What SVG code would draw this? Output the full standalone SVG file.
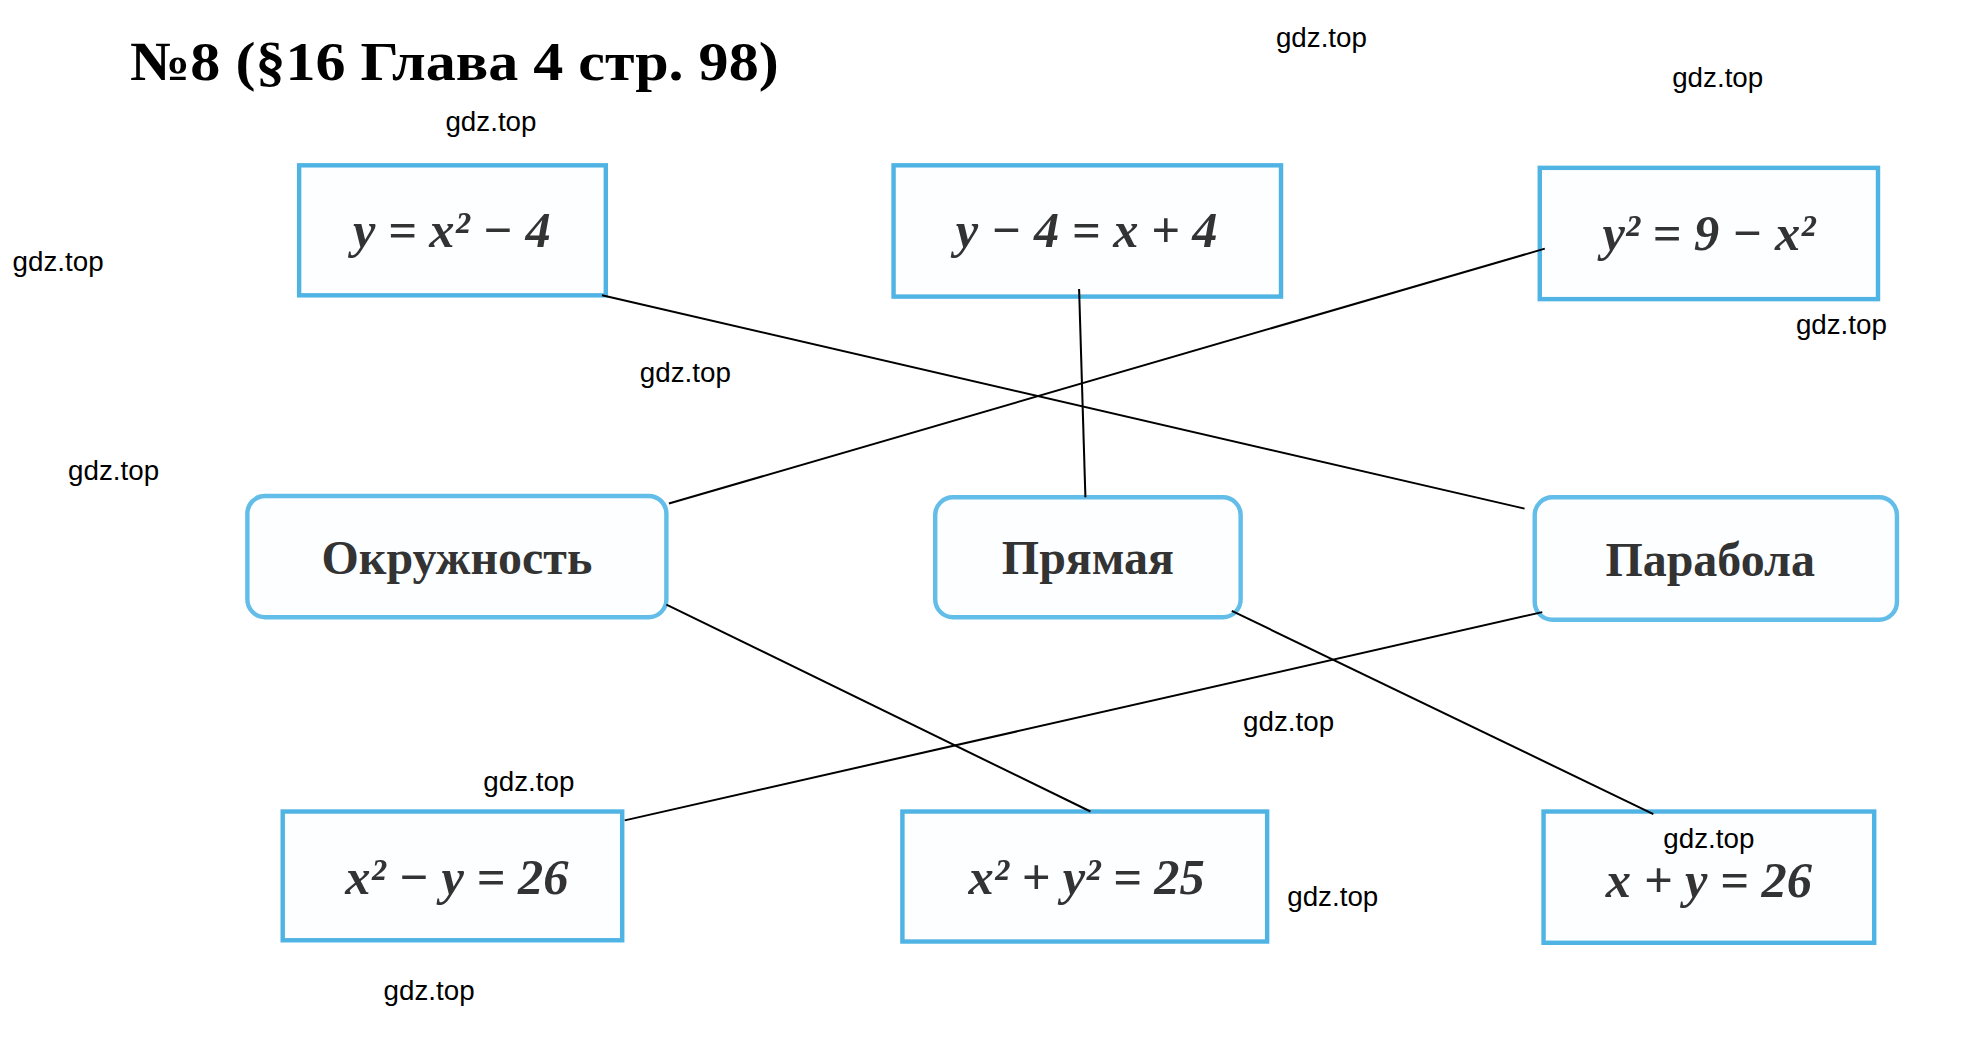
<svg xmlns="http://www.w3.org/2000/svg" width="1979" height="1037" viewBox="0 0 1979 1037">
<style>
.bx{fill:#fdfeff;stroke:#4fb3e3;stroke-width:3.5}
.rb{fill:#fdfeff;stroke:#62bde8;stroke-width:3.5}
.f{font-family:"Liberation Serif",serif;font-style:italic;font-weight:bold;font-size:40px;fill:#333;text-anchor:middle}
.w{font-family:"Liberation Serif",serif;font-weight:bold;font-size:38px;fill:#333;text-anchor:middle}
.g{font-family:"Liberation Sans",Arial,sans-serif;font-size:22px;fill:#000;text-anchor:middle}
.c line{stroke:#000;stroke-width:1.6}
</style>
<rect width="1979" height="1037" fill="#fff"/>
<g transform="scale(1.2621)">
<text x="103" y="63" font-family="'Liberation Serif',serif" font-weight="bold" font-size="44" textLength="514" lengthAdjust="spacingAndGlyphs">№8 (§16 Глава 4  стр. 98)</text>
<g id="n1"><rect class="bx" x="237" y="131" width="243" height="103"/><text class="f" x="358" y="196">y = x² − 4</text></g>
<g id="n2"><rect class="bx" x="708" y="131" width="307" height="104"/><text class="f" x="861" y="196">y − 4 = x + 4</text></g>
<g id="n3"><rect class="bx" x="1220" y="133" width="268" height="104"/><text class="f" x="1354" y="198">y² = 9 − x²</text></g>
<g id="n4"><rect class="rb" x="196" y="393" width="332" height="96" rx="14"/><text class="w" x="362" y="455">Окружность</text></g>
<g id="n5"><rect class="rb" x="741" y="394" width="242" height="95" rx="14"/><text class="w" x="862" y="455">Прямая</text></g>
<g id="n6"><rect class="rb" x="1216" y="394" width="287" height="97" rx="14"/><text class="w" x="1355" y="456">Парабола</text></g>
<g id="n7"><rect class="bx" x="224" y="643" width="269" height="102"/><text class="f" x="362" y="708">x² − y = 26</text></g>
<g id="n8"><rect class="bx" x="715" y="643" width="289" height="103"/><text class="f" x="861" y="708">x² + y² = 25</text></g>
<g id="n9"><rect class="bx" x="1223" y="643" width="262" height="104"/><text class="f" x="1354" y="711">x + y = 26</text></g>
<g class="c" id="connectors">
<line x1="477" y1="234" x2="1208" y2="403"/>
<line x1="855" y1="229" x2="860" y2="394"/>
<line x1="1224" y1="197" x2="530" y2="399"/>
<line x1="528" y1="479" x2="864" y2="643"/>
<line x1="976" y1="484" x2="1310" y2="645"/>
<line x1="1222" y1="485" x2="495" y2="650"/>
</g>
<g id="wm">
<text class="g" x="1047" y="37">gdz.top</text>
<text class="g" x="1361" y="69" font-size="17">gdz.top</text>
<text class="g" x="389" y="104">gdz.top</text>
<text class="g" x="46" y="215">gdz.top</text>
<text class="g" x="1459" y="265">gdz.top</text>
<text class="g" x="543" y="303">gdz.top</text>
<text class="g" x="90" y="380">gdz.top</text>
<text class="g" x="1021" y="579">gdz.top</text>
<text class="g" x="419" y="627">gdz.top</text>
<text class="g" x="1354" y="672">gdz.top</text>
<text class="g" x="1056" y="718">gdz.top</text>
<text class="g" x="340" y="792">gdz.top</text>
</g>
</g>
</svg>
